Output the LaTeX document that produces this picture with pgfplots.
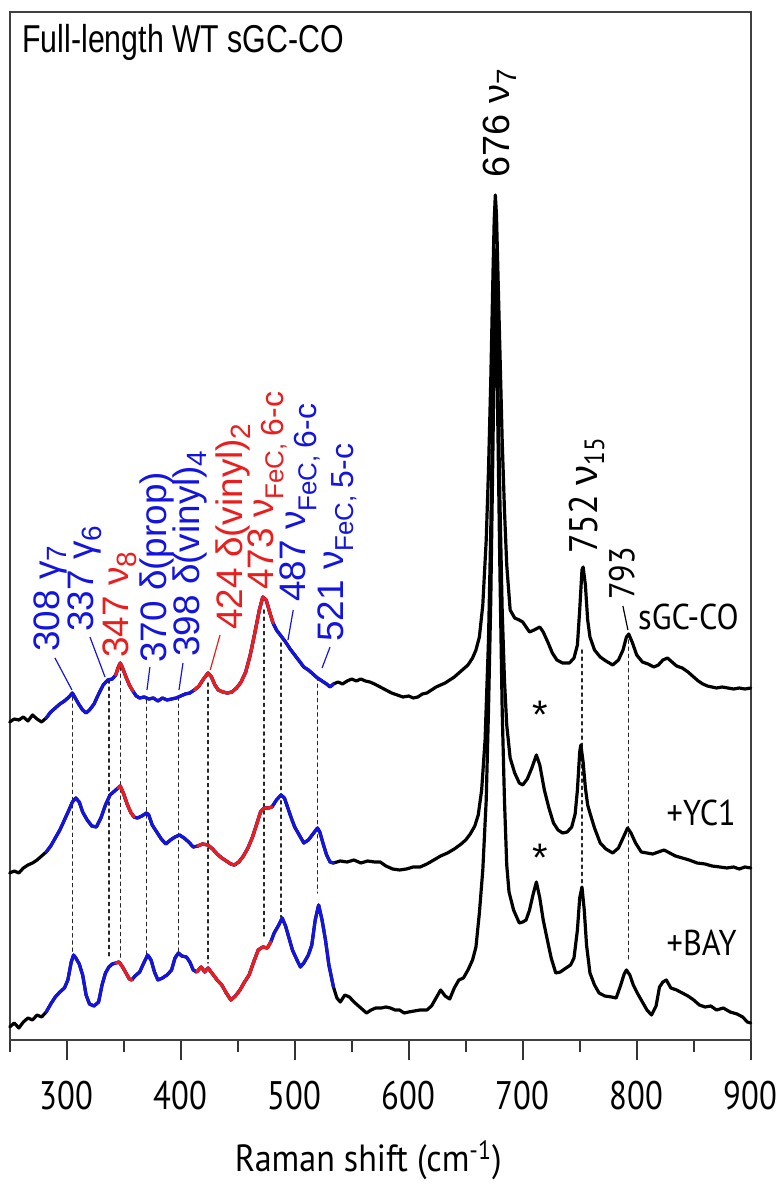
\documentclass[border=0pt]{standalone}
\usepackage{fontspec}
\setmainfont{Liberation Sans}
\newfontfamily\titlefont[FakeStretch=0.78]{Liberation Sans}
\newfontfamily\myr[FakeStretch=0.82]{PT Sans}
\newfontfamily\myrn[FakeStretch=0.9]{PT Sans}
\usepackage{pgfplots}
\pgfplotsset{compat=1.18}
\usepackage{pgfplotstable}
\definecolor{cblue}{RGB}{20,20,225}
\definecolor{cred}{RGB}{235,30,30}

% sGC-CO (top trace)
\pgfplotstableread{
x y
250 348
254 351
258 350
262 353
266 349
270 355
274 351
278 348
282 352
286 358
290 362
294 366
298 369
302 373
305 377
308 371
311 365
314 360
317 357
320 360
324 366
328 376
332 385
336 390
340 391
343 395
345 402
347 407
349 402
352 393
355 385
358 379
361 374
364 372
368 373
372 371
376 372
380 369
384 372
388 370
392 371
396 372
400 374
404 376
408 377
412 380
416 384
420 391
424 397
427 393
430 385
433 380
437 378
441 377
445 378
449 382
453 388
457 398
461 415
465 437
469 460
472 473
475 470
478 458
481 447
484 440
488 434
492 428
496 421
500 415
504 409
508 403
512 400
516 396
520 392
524 389
528 386
531 383
534 386
538 388
542 386
546 389
550 391
554 389
558 391
562 389
566 388
570 386
575 383
580 380
585 377
590 375
595 373
600 374
604 372
608 373
612 376
616 377
620 380
624 383
628 385
632 387
636 390
640 393
644 397
648 401
652 405
656 412
659 420
662 433
665 465
668 530
670 600
672 690
674 800
675 850
676 875
677 855
678 810
680 720
682 630
684 560
686 505
689 460
693 452
697 450
700 448
703 443
706 438
710 440
715 443
718 438
722 428
726 417
730 410
735 407
741 407
745 412
748 425
750 460
752 500
753 503
755 485
757 450
759 433
763 420
768 413
773 409
779 405
784 410
788 420
791 433
793 436
796 428
800 415
805 408
810 406
815 403
819 405
823 410
827 412
831 408
835 404
840 402
845 398
850 393
854 389
858 386
862 384
866 383
870 382
875 383
880 382
885 381
890 382
895 381
900 382
}\traceA

% +YC1 (middle trace)
\pgfplotstableread{
x y
250 197
254 199
258 197
262 202
266 205
270 207
274 210
278 214
282 218
286 224
290 232
294 240
298 250
302 260
305 268
308 272
311 268
314 258
318 250
322 244
326 243
330 252
334 265
338 275
342 279
345 282
347 284
350 276
353 266
356 258
359 253
362 252
366 254
370 257
372 255
375 245
379 238
383 231
387 226
391 230
395 233
399 235
403 232
407 228
411 223
415 224
419 226
424 225
428 221
432 216
436 212
440 209
444 206
447 205
451 208
455 214
459 222
463 233
467 247
470 258
473 262
477 262
480 263
484 270
488 275
491 272
494 262
497 252
500 243
504 235
508 227
512 230
516 236
520 242
522 238
525 226
528 215
531 208
534 207
540 209
546 208
552 210
558 207
564 209
570 208
575 208
580 204
586 201
592 200
598 201
604 203
610 203
616 206
622 210
628 214
634 217
640 221
646 226
650 230
654 236
658 244
661 255
664 280
667 330
670 430
672 540
674 680
675 760
676 820
677 770
678 700
680 570
682 460
684 390
686 345
689 312
693 297
697 287
700 285
704 291
708 302
712 315
715 305
719 280
723 262
727 247
731 240
735 237
739 238
743 243
746 256
748 280
750 318
751 325
753 308
755 282
757 265
759 257
763 242
768 227
773 221
779 217
784 222
788 232
792 242
795 237
799 227
804 218
809 217
814 216
819 218
824 220
829 217
834 214
840 212
846 210
853 207
860 206
866 204
873 203
879 202
885 203
890 201
895 203
900 202
}\traceB

% +BAY (bottom trace)
\pgfplotstableread{
x y
250 43
254 47
258 42
262 48
266 52
270 50
274 55
278 53
282 58
286 66
290 73
294 78
298 82
301 90
304 108
306 115
308 112
311 106
314 95
317 75
320 66
324 64
328 68
331 85
334 97
337 103
340 106
343 107
346 108
349 103
352 97
355 91
357 90
360 94
364 98
368 108
371 115
374 110
377 98
380 90
384 92
388 95
392 100
395 112
398 117
401 114
405 113
408 108
411 100
414 98
418 103
421 98
424 102
428 96
432 90
436 85
440 77
444 70
448 74
452 80
456 88
460 95
464 108
468 120
472 123
476 122
479 128
482 137
486 145
489 152
492 144
495 132
498 120
502 110
505 103
508 107
512 115
515 125
518 150
521 165
524 150
527 130
530 105
534 83
537 72
540 68
544 75
548 73
552 68
556 64
560 60
563 57
567 60
571 62
576 62
580 63
584 62
588 60
592 60
596 57
600 58
605 59
610 60
616 60
620 64
624 72
628 80
632 74
636 71
640 82
644 90
648 92
652 100
656 110
659 123
662 157
665 200
668 270
670 360
672 470
674 630
675 730
676 800
677 740
678 660
680 500
682 360
684 270
686 205
688 178
692 160
697 147
700 148
703 150
706 160
709 175
712 188
715 172
718 150
722 128
725 112
729 97
733 98
738 102
742 105
745 112
748 140
750 172
752 183
754 160
756 125
759 97
763 85
767 77
772 74
778 73
782 72
786 85
789 96
791 100
794 95
797 85
801 76
805 68
809 60
813 55
817 64
820 83
823 88
826 90
830 82
835 80
840 77
845 74
850 70
855 65
860 63
865 64
870 60
876 62
882 58
888 56
893 53
897 48
900 47
}\traceC

\begin{document}
\begin{tikzpicture}
\begin{axis}[
  scale only axis, width=370.5bp, height=514bp,
  xmin=250, xmax=900, ymin=30, ymax=1058,
  axis line style={line width=1pt, black!75},
  xtick={300,400,...,900}, minor xtick={250,350,...,850},
  ytick=\empty,
  xtick pos=bottom, tick align=outside,
  major tick length=10bp, minor tick length=6bp,
  tick style={line width=1pt, black!80},
  xticklabel style={font=\myr\fontsize{20}{20}\selectfont, yshift=-7bp},
  /pgf/number format/assume math mode=true,
  /pgf/number format/1000 sep={},
  xlabel={Raman shift (cm\textsuperscript{-1})},
  xlabel style={font=\myrn\fontsize{19}{19}\selectfont, at={(axis description cs:0.5,0)}, anchor=center, yshift=-60bp, xshift=-6bp},
  clip=false,
  every axis plot/.append style={line width=1.6pt, line join=round, line cap=round},
]
% dotted guide lines
\addplot[dotted, line width=0.75pt, black!85] coordinates {(305,373) (305,115)};
\addplot[dotted, line width=0.75pt, black!85] coordinates {(337,390) (337,112)};
\addplot[dotted, line width=0.75pt, black!85] coordinates {(347,403) (347,112)};
\addplot[dotted, line width=0.75pt, black!85] coordinates {(370,370) (370,115)};
\addplot[dotted, line width=0.75pt, black!85] coordinates {(398,373) (398,117)};
\addplot[dotted, line width=0.75pt, black!85] coordinates {(424,387) (424,107)};
\addplot[dotted, line width=0.75pt, black!85] coordinates {(473,460) (473,133)};
\addplot[dotted, line width=0.75pt, black!85] coordinates {(488,427) (488,153)};
\addplot[dotted, line width=0.75pt, black!85] coordinates {(520,393) (520,177)};
\addplot[dotted, line width=0.75pt, black!85] coordinates {(752,420) (752,185)};
\addplot[dotted, line width=0.75pt, black!85] coordinates {(793,430) (793,110)};

% traces
\addplot[black] table {\traceA};
\addplot[cblue, restrict x to domain=281:534] table {\traceA};
\addplot[cred, restrict x to domain=343:359] table {\traceA};
\addplot[cred, restrict x to domain=412:481] table {\traceA};

\addplot[black] table {\traceB};
\addplot[cblue, restrict x to domain=281:534] table {\traceB};
\addplot[cred, restrict x to domain=343:359] table {\traceB};
\addplot[cred, restrict x to domain=412:481] table {\traceB};

\addplot[black] table {\traceC};
\addplot[cblue, restrict x to domain=281:534] table {\traceC};
\addplot[cred, restrict x to domain=343:359] table {\traceC};
\addplot[cred, restrict x to domain=412:481] table {\traceC};

% title
\node[anchor=west, inner sep=0, font=\titlefont\fontsize{19.5}{19.5}\selectfont] at (axis cs:260.8,1028) {Full-length WT sGC-CO};

% peak labels
\tikzset{lab/.style={rotate=90, anchor=west, inner sep=0, font=\fontsize{18.5}{18.5}\selectfont}}
\newcommand\sub[1]{\textsubscript{\fontsize{14}{14}\selectfont #1}}
\newcommand\subfec[1]{\textsubscript{\fontsize{13}{13}\selectfont FeC, \fontsize{16}{16}\selectfont #1}}
\node[lab, text=cblue] at (axis cs:285.4,418) {308 γ\sub{7}};
\node[lab, text=cblue] at (axis cs:316,438) {337 γ\sub{6}};
\node[lab, text=cred]  at (axis cs:346.8,412) {347 ν\sub{8}};
\node[lab, text=cblue] at (axis cs:379.2,407) {370 δ(prop)};
\node[lab, text=cblue] at (axis cs:408.2,413) {398 δ(vinyl)\sub{4}};
\node[lab, text=cred]  at (axis cs:445.9,440) {424 δ(vinyl)\sub{2}};
\node[lab, text=cred]  at (axis cs:475.7,480) {473 ν\subfec{6-c}};
\node[lab, text=cblue] at (axis cs:504.6,468) {487 ν\subfec{6-c}};
\node[lab, text=cblue] at (axis cs:537.1,428) {521 ν\subfec{5-c}};
\node[lab, font=\fontsize{19}{19}\selectfont] at (axis cs:680,892) {676 ν\sub{7}};
\node[lab, font=\myrn\fontsize{20}{20}\selectfont] at (axis cs:756.4,516) {752 {\rmfamily ν}\textsubscript{\fontsize{14}{14}\selectfont 15}};
\node[lab, font=\myrn\fontsize{18}{18}\selectfont] at (axis cs:787,470) {793};

% leader lines
\draw[cblue, line width=0.6pt] (axis cs:289.7,412) -- (axis cs:304.6,380);
\draw[cblue, line width=0.6pt] (axis cs:320.4,433) -- (axis cs:333.6,393);
\draw[cblue, line width=0.6pt] (axis cs:373,403) -- (axis cs:370.4,380);
\draw[cblue, line width=0.6pt] (axis cs:402,407) -- (axis cs:398.5,380);
\draw[cred, line width=0.6pt]  (axis cs:434.5,435) -- (axis cs:425.9,400);
\draw[cblue, line width=0.6pt] (axis cs:498.7,460) -- (axis cs:494.1,430);
\draw[cblue, line width=0.6pt] (axis cs:531,423) -- (axis cs:524,402);
\draw[black, line width=0.6pt] (axis cs:787.9,464) -- (axis cs:792.3,440);

% trace names and markers
\node[anchor=west, inner sep=0, font=\myrn\fontsize{18}{18}\selectfont] at (axis cs:801,453) {sGC-CO};
\node[anchor=west, inner sep=0, font=\myrn\fontsize{18}{18}\selectfont] at (axis cs:826,257) {+YC1};
\node[anchor=west, inner sep=0, font=\myrn\fontsize{18}{18}\selectfont] at (axis cs:826,127) {+BAY};
\node[inner sep=0, font=\fontsize{20}{20}\selectfont] at (axis cs:715.4,355) {*};
\node[inner sep=0, font=\fontsize{20}{20}\selectfont] at (axis cs:715.4,212) {*};

\coordinate (bbtl) at (rel axis cs:0,1);
\coordinate (bbbr) at (rel axis cs:1,0);
\end{axis}
\pgfresetboundingbox
\path[use as bounding box] ([xshift=-4.85bp,yshift=6bp]bbtl) rectangle ([xshift=16.15bp,yshift=-72bp]bbbr);
\end{tikzpicture}
\end{document}
